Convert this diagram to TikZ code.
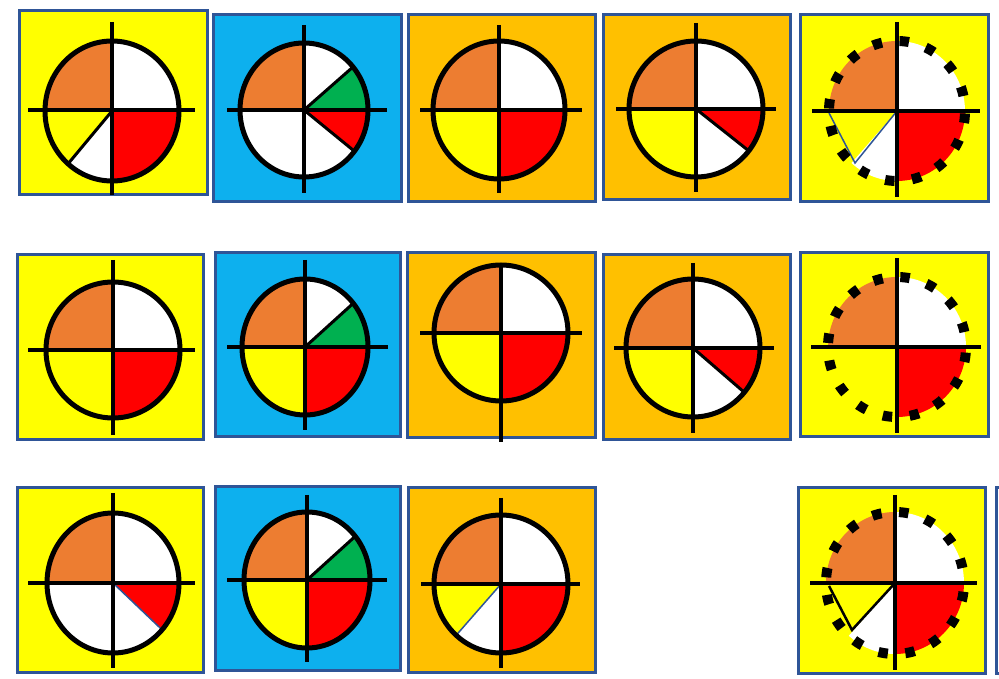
\documentclass[tikz,border=0pt]{standalone}
\begin{document}
\begin{tikzpicture}[x=1pt,y=1pt,
  tileborder/.style={draw=bord,line width=3pt},
  crossline/.style={draw=black,line width=4.5pt},
  solidring/.style={draw=black,line width=5pt},
  dotring/.style={draw=black,line width=10pt,dash pattern=on 9.5pt off 17.6pt,dash phase=12pt},
  divblack/.style={draw=black,line width=3pt},
  divblue/.style={draw=bord,line width=1.5pt}]
\definecolor{ybg}{HTML}{FFFF00}
\definecolor{bbg}{HTML}{0DB0EE}
\definecolor{obg}{HTML}{FFC000}
\definecolor{osec}{HTML}{ED7D31}
\definecolor{rsec}{HTML}{FF0000}
\definecolor{gsec}{HTML}{00B050}
\definecolor{ysec}{HTML}{FFFF00}
\definecolor{bord}{HTML}{2F5597}
\newcommand{\tbox}[5]{\draw[tileborder,fill=#5] (#1,{678-#2}) rectangle (#3,{678-#4});}
\newcommand{\tcen}[4]{\def\cx{#1}\pgfmathsetmacro{\cy}{678-#2}\def\rx{#3}\def\ry{#4}}
\newcommand{\twedge}[3]{\fill[#3] (\cx,\cy) -- ++({\rx*cos(#1)},{\ry*sin(#1)}) arc[start angle=#1,end angle=#2,x radius=\rx,y radius=\ry] -- cycle;}
\newcommand{\trad}[2]{\draw[#2] (\cx,\cy) -- ++({\rx*cos(#1)},{\ry*sin(#1)});}
\newcommand{\tring}[1]{\draw[#1] (\cx,\cy) ellipse[x radius=\rx,y radius=\ry];}
\newcommand{\thl}[3]{\draw[crossline] (#1,{678-#3}) -- (#2,{678-#3});}
\newcommand{\tvl}[3]{\draw[crossline] (#1,{678-#2}) -- (#1,{678-#3});}
\useasboundingbox (0,0) rectangle (999,678);
\clip (0,0) rectangle (999,678);
\fill[white] (0,0) rectangle (999,678);
% ---------- Row 1 ----------
% R1C1
\tbox{19}{11}{207}{195}{ybg}
\tcen{112}{111}{67}{70}
\twedge{90}{180}{osec}\twedge{0}{90}{white}\twedge{270}{360}{rsec}\twedge{229}{270}{white}
\trad{229}{divblack}
\tring{solidring}
\thl{28}{195}{110}\tvl{112}{22}{195}
% R1C2
\tbox{213}{15}{401}{202}{bbg}
\tcen{304}{110}{64}{67}
\twedge{90}{180}{osec}\twedge{40}{90}{white}\twedge{0}{40}{gsec}\twedge{-38}{0}{rsec}\twedge{270}{322}{white}\twedge{180}{270}{white}
\trad{40}{divblack}\trad{-38}{divblack}
\tring{solidring}
\thl{227}{387}{110}\tvl{304}{25}{193}
% R1C3
\tbox{408}{15}{595}{202}{obg}
\tcen{499}{110}{66}{69}
\twedge{90}{180}{osec}\twedge{0}{90}{white}\twedge{180}{270}{ysec}\twedge{270}{360}{rsec}
\tring{solidring}
\thl{420}{582}{110}\tvl{499}{25}{193}
% R1C4
\tbox{603}{15}{790}{200}{obg}
\tcen{696}{109}{67}{68}
\twedge{90}{180}{osec}\twedge{0}{90}{white}\twedge{180}{270}{ysec}\twedge{-38}{0}{rsec}\twedge{270}{322}{white}
\trad{-38}{divblack}
\tring{solidring}
\thl{616}{776}{109}\tvl{696}{23}{192}
% R1C5
\tbox{800}{15}{988}{202}{ybg}
\tcen{897}{111}{68}{70}
\twedge{90}{180}{osec}\twedge{0}{90}{white}\twedge{270}{360}{rsec}\twedge{228}{270}{white}
\draw[divblue] (\cx,\cy) -- (855,{678-163}) -- (829,{678-113});
\tring{dotring}
\thl{812}{980}{111}\tvl{897}{22}{197}
% ---------- Row 2 ----------
% R2C1
\tbox{17}{255}{203}{440}{ybg}
\tcen{113}{350}{67}{68}
\twedge{90}{180}{osec}\twedge{0}{90}{white}\twedge{180}{270}{ysec}\twedge{270}{360}{rsec}
\tring{solidring}
\thl{28}{195}{350}\tvl{113}{260}{435}
% R2C2
\tbox{215}{253}{400}{437}{bbg}
\tcen{305}{347}{63}{68}
\twedge{90}{180}{osec}\twedge{40}{90}{white}\twedge{0}{40}{gsec}\twedge{180}{270}{ysec}\twedge{270}{360}{rsec}
\trad{40}{divblack}
\tring{solidring}
\thl{227}{388}{347}\tvl{305}{260}{430}
% R2C3
\tbox{407}{253}{595}{438}{obg}
\tcen{501}{333}{67}{68}
\twedge{90}{180}{osec}\twedge{0}{90}{white}\twedge{180}{270}{ysec}\twedge{270}{360}{rsec}
\tring{solidring}
\thl{420}{582}{333}\tvl{501}{265}{442}
% R2C4
\tbox{603}{255}{790}{440}{obg}
\tcen{693}{348}{67}{69}
\twedge{90}{180}{osec}\twedge{0}{90}{white}\twedge{180}{270}{ysec}\twedge{-40}{0}{rsec}\twedge{270}{320}{white}
\trad{-40}{divblack}
\tring{solidring}
\thl{614}{774}{348}\tvl{693}{263}{433}
% R2C5
\tbox{800}{253}{988}{437}{ybg}
\tcen{897}{347}{69}{70}
\twedge{90}{180}{osec}\twedge{0}{90}{white}\twedge{270}{360}{rsec}
\tring{dotring}
\thl{811}{981}{347}\tvl{897}{258}{433}
% ---------- Row 3 ----------
% R3C1
\tbox{17}{488}{203}{672}{ybg}
\tcen{113}{583}{66}{70}
\twedge{90}{180}{osec}\twedge{0}{90}{white}\twedge{180}{270}{white}\twedge{270}{318}{white}\twedge{-42}{0}{rsec}
\draw[divblue] (\cx,\cy) -- ++({\rx*cos(-42)},{\ry*sin(-42)}) arc[start angle=-42,end angle=0,x radius=\rx,y radius=\ry];
\tring{solidring}
\thl{28}{195}{583}\tvl{113}{493}{668}
% R3C2
\tbox{215}{487}{400}{670}{bbg}
\tcen{307}{580}{63}{68}
\twedge{90}{180}{osec}\twedge{40}{90}{white}\twedge{0}{40}{gsec}\twedge{180}{270}{ysec}\twedge{270}{360}{rsec}
\trad{40}{divblack}
\tring{solidring}
\thl{227}{387}{580}\tvl{307}{495}{662}
% R3C3
\tbox{408}{488}{595}{672}{obg}
\tcen{501}{584}{67}{69}
\twedge{90}{180}{osec}\twedge{0}{90}{white}\twedge{180}{228}{ysec}\twedge{228}{270}{white}\twedge{270}{360}{rsec}
\trad{228}{divblue}
\tring{solidring}
\thl{421}{580}{584}\tvl{501}{498}{668}
% R3C5
\tbox{798}{488}{985}{673}{ybg}
\tcen{895}{583}{69}{71}
\twedge{90}{180}{osec}\twedge{0}{90}{white}\twedge{270}{360}{rsec}\twedge{228}{270}{white}
\draw[divblack,line width=2.5pt] (\cx,\cy) -- (852,{678-630}) -- (829,{678-586});
\tring{dotring}
\thl{810}{977}{583}\tvl{895}{495}{670}
% partial tile at the right edge
\draw[tileborder,fill=white] (996,{678-488}) rectangle (1030,{678-673});
\end{tikzpicture}
\end{document}
